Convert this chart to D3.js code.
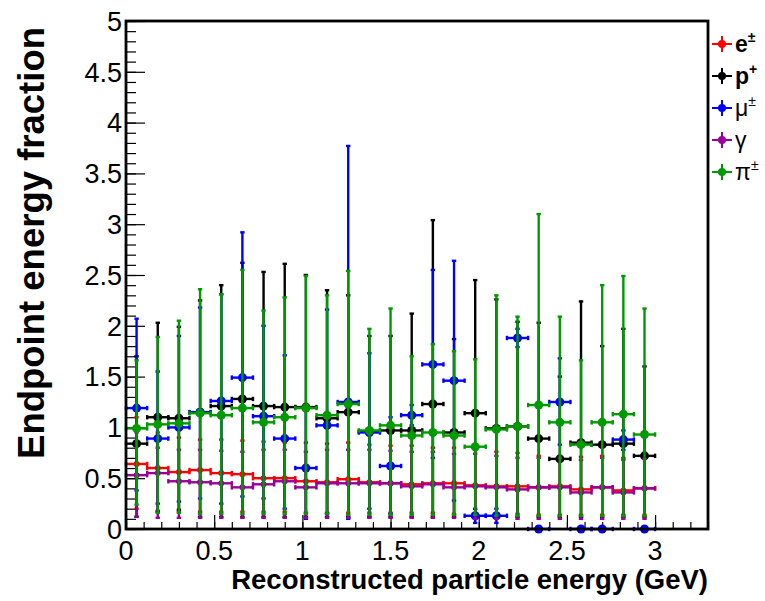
<!DOCTYPE html>
<html>
<head>
<meta charset="utf-8">
<script src="https://cdn.jsdelivr.net/npm/d3@7"></script>
<style>
  body { margin: 0; background: #fff; }
  svg { font-family: "Liberation Sans", Arial, Helvetica, sans-serif; }
</style>
</head>
<body>
<svg id="chart" width="765" height="601"></svg>
<script>
// bin centres of the reconstructed energy (GeV), bins are 0.12 wide
const energy = [0.06, 0.18, 0.30, 0.42, 0.54, 0.66, 0.78, 0.90, 1.02, 1.14, 1.26, 1.38, 1.50,
  1.62, 1.74, 1.86, 1.98, 2.10, 2.22, 2.34, 2.46, 2.58, 2.70, 2.82, 2.94];
const binHalfWidth = 0.06;

// e+-  (value, top of error bar, bottom of error bar)
const eValue = [0.64, 0.60, 0.56, 0.58, 0.55, 0.54, 0.50, 0.50, 0.47, 0.46, 0.49, 0.46, 0.45,
  0.44, 0.45, 0.45, 0.43, 0.42, 0.42, 0.41, 0.42, 0.39, 0.41, 0.38, 0.40];
const eHigh = [1.10, 0.95, 0.90, 0.88, 0.88, 0.87, 0.86, 0.85, 0.85, 0.84, 0.85, 0.83, 0.82,
  0.82, 0.80, 0.80, 0.78, 0.76, 0.75, 0.72, 0.72, 0.71, 0.72, 0.70, 0.71];
const eLow = [0.20, 0.18, 0.17, 0.17, 0.17, 0.17, 0.17, 0.17, 0.16, 0.16, 0.16, 0.16, 0.16,
  0.16, 0.16, 0.15, 0.15, 0.15, 0.15, 0.14, 0.14, 0.14, 0.14, 0.14, 0.14];

// p+
const pValue = [0.84, 1.10, 1.09, 1.15, 1.21, 1.28, 1.21, 1.20, 1.20, 1.09, 1.15, 0.96, 0.97,
  0.97, 1.23, 0.95, 1.14, 0.99, 1.01, 0.89, 0.69, 0.85, 0.83, 0.84, 0.72];
const pHigh = [1.70, 2.03, 1.99, 2.25, 2.40, 2.62, 2.53, 2.61, 2.50, 2.35, 2.30, 1.90, 1.90,
  2.12, 3.04, 1.87, 2.45, 2.26, 2.04, 2.03, 1.50, 2.24, 1.80, 1.97, 1.60];
const pLow = [0.12, 0.17, 0.19, 0.12, 0.12, 0.12, 0.12, 0.12, 0.12, 0.12, 0.12, 0.12, 0.12,
  0.12, 0.12, 0.12, 0.12, 0.12, 0.12, 0.12, 0.12, 0.12, 0.12, 0.12, 0.12];

// mu+-
const muValue = [1.19, 0.89, 1.00, 1.15, 1.26, 1.49, 1.11, 0.89, 0.60, 1.02, 1.25, 0.95, 0.62,
  1.12, 1.62, 1.46, 0.13, 0.13, 1.88, 0, 1.25, 0, 0, 0.88, 0];
const muHigh = [2.07, 1.55, 1.90, 2.18, 2.31, 2.92, 2.00, 1.71, 1.20, 2.16, 3.77, 1.73, 1.10,
  1.22, 2.55, 2.64, 0.20, 0.20, 1.97, 0, 1.68, 0, 0, 0.97, 0];
const muLow = [0.38, 0.25, 0.27, 0.30, 0.25, 0.32, 0.30, 0.20, 0.10, 0.15, 0.10, 0.20, 0.15,
  1.02, 0.70, 0.28, 0.06, 0.06, 1.79, 0, 0.83, 0, 0, 0.78, 0];

// gamma
const gValue = [0.53, 0.55, 0.47, 0.46, 0.45, 0.41, 0.44, 0.47, 0.41, 0.45, 0.45, 0.45, 0.45,
  0.42, 0.44, 0.41, 0.42, 0.41, 0.39, 0.41, 0.41, 0.36, 0.41, 0.36, 0.40];
const gHigh = [0.95, 0.80, 0.78, 0.78, 0.77, 0.76, 0.78, 0.78, 0.76, 0.78, 0.78, 0.78, 0.77,
  0.76, 0.76, 0.74, 0.74, 0.72, 0.70, 0.70, 0.70, 0.68, 0.70, 0.68, 0.69];
const gLow = [0.12, 0.11, 0.11, 0.11, 0.11, 0.11, 0.11, 0.11, 0.11, 0.11, 0.11, 0.11, 0.11,
  0.11, 0.11, 0.11, 0.10, 0.10, 0.10, 0.10, 0.10, 0.10, 0.10, 0.10, 0.10];

// pi+-
const piValue = [0.99, 1.03, 1.04, 1.14, 1.12, 1.19, 1.05, 1.10, 1.19, 1.12, 1.23, 0.97, 1.02,
  0.92, 0.95, 0.92, 0.81, 0.98, 1.01, 1.22, 1.05, 0.83, 1.05, 1.13, 0.93];
const piHigh = [1.66, 1.89, 2.05, 2.36, 2.31, 2.55, 2.15, 2.28, 2.49, 2.30, 2.54, 1.97, 2.17,
  1.70, 1.82, 1.75, 1.67, 2.30, 2.09, 3.10, 2.09, 1.66, 2.40, 2.49, 2.17];
const piLow = [0.24, 0.16, 0.16, 0.15, 0.15, 0.15, 0.15, 0.15, 0.15, 0.15, 0.14, 0.14, 0.14,
  0.14, 0.14, 0.14, 0.14, 0.13, 0.13, 0.13, 0.13, 0.13, 0.13, 0.13, 0.13];

const xTicks = [0, 0.5, 1, 1.5, 2, 2.5, 3];
const yTicks = [0, 0.5, 1, 1.5, 2, 2.5, 3, 3.5, 4, 4.5, 5];

// drawing order follows the legend
const series = [
  { name: 'e', sup: '±', bold: true, color: '#ff0000', r: 3, value: eValue, high: eHigh, low: eLow },
  { name: 'p', sup: '+', bold: true, color: '#000000', r: 4.5, value: pValue, high: pHigh, low: pLow },
  { name: 'μ', sup: '±', bold: false, color: '#0000ff', r: 4.5, value: muValue, high: muHigh, low: muLow },
  { name: 'γ', sup: '', bold: false, color: '#990099', r: 3, value: gValue, high: gHigh, low: gLow },
  { name: 'π', sup: '±', bold: false, color: '#009900', r: 4.5, value: piValue, high: piHigh, low: piLow },
];

const svg = d3.select('#chart');
const frame = { left: 126, right: 708, top: 21, bottom: 529 };

const x = d3.scaleLinear().domain([0, 3.3]).range([frame.left, frame.right]);
const y = d3.scaleLinear().domain([0, 5]).range([frame.bottom, frame.top]);

// ticks, drawn inward like ROOT does
const xAxis = d3.axisBottom(x).tickValues(d3.range(0, 3.31, 0.1)).tickSize(-7).tickFormat('');
svg.append('g').attr('transform', `translate(0,${frame.bottom})`).call(xAxis)
  .call((g) => g.select('.domain').remove());
svg.append('g').attr('transform', `translate(0,${frame.bottom})`)
  .call(d3.axisBottom(x).tickValues(xTicks).tickSize(-14).tickFormat(''))
  .call((g) => g.select('.domain').remove());

svg.append('g').attr('transform', `translate(${frame.left},0)`)
  .call(d3.axisLeft(y).tickValues(d3.range(0, 5.01, 0.1)).tickSize(-10).tickFormat(''))
  .call((g) => g.select('.domain').remove());
svg.append('g').attr('transform', `translate(${frame.left},0)`)
  .call(d3.axisLeft(y).tickValues(yTicks).tickSize(-19).tickFormat(''))
  .call((g) => g.select('.domain').remove());

svg.selectAll('.tick line').attr('stroke', '#000').attr('stroke-width', 1.2);

// tick labels
svg.append('g').selectAll('text').data(xTicks).enter().append('text')
  .attr('x', (d) => x(d))
  .attr('y', 560)
  .attr('text-anchor', 'middle')
  .attr('font-size', 27)
  .text((d) => d3.format('~g')(d));

svg.append('g').selectAll('text').data(yTicks).enter().append('text')
  .attr('x', 122)
  .attr('y', (d) => y(d) + 9.7)
  .attr('text-anchor', 'end')
  .attr('font-size', 27)
  .text((d) => d3.format('~g')(d));

// axis titles
svg.append('text')
  .attr('x', frame.right)
  .attr('y', 589)
  .attr('text-anchor', 'end')
  .attr('font-size', 27.5)
  .attr('font-weight', 'bold')
  .text('Reconstructed particle energy (GeV)');

svg.append('text')
  .attr('transform', `translate(44,${frame.top + 6}) rotate(-90)`)
  .attr('text-anchor', 'end')
  .attr('font-size', 36.5)
  .attr('font-weight', 'bold')
  .text('Endpoint energy fraction');

// points with error bars
const cap = 2.2;
series.forEach((s) => {
  const pts = energy.map((e, i) => ({ e, v: s.value[i], hi: s.high[i], lo: s.low[i] }));
  const g = svg.append('g').attr('stroke', s.color).attr('stroke-width', 2.4).attr('fill', 'none');

  const vert = pts.filter((d) => d.hi > d.lo);
  g.selectAll('.ev').data(vert).enter().append('line')
    .attr('x1', (d) => x(d.e)).attr('x2', (d) => x(d.e))
    .attr('y1', (d) => y(d.hi)).attr('y2', (d) => y(d.lo));
  g.selectAll('.ect').data(vert).enter().append('line')
    .attr('x1', (d) => x(d.e) - cap).attr('x2', (d) => x(d.e) + cap)
    .attr('y1', (d) => y(d.hi)).attr('y2', (d) => y(d.hi));
  g.selectAll('.ecb').data(vert).enter().append('line')
    .attr('x1', (d) => x(d.e) - cap).attr('x2', (d) => x(d.e) + cap)
    .attr('y1', (d) => y(d.lo)).attr('y2', (d) => y(d.lo));

  g.selectAll('.eh').data(pts).enter().append('line')
    .attr('x1', (d) => x(d.e - binHalfWidth)).attr('x2', (d) => x(d.e + binHalfWidth))
    .attr('y1', (d) => y(d.v)).attr('y2', (d) => y(d.v));
  g.selectAll('.ecl').data(pts).enter().append('line')
    .attr('x1', (d) => x(d.e - binHalfWidth)).attr('x2', (d) => x(d.e - binHalfWidth))
    .attr('y1', (d) => y(d.v) - cap).attr('y2', (d) => y(d.v) + cap);
  g.selectAll('.ecr').data(pts).enter().append('line')
    .attr('x1', (d) => x(d.e + binHalfWidth)).attr('x2', (d) => x(d.e + binHalfWidth))
    .attr('y1', (d) => y(d.v) - cap).attr('y2', (d) => y(d.v) + cap);

  svg.append('g').selectAll('circle').data(pts).enter().append('circle')
    .attr('cx', (d) => x(d.e))
    .attr('cy', (d) => y(d.v))
    .attr('r', s.r)
    .attr('fill', s.color);
});

// frame
svg.append('rect')
  .attr('x', frame.left).attr('y', frame.top)
  .attr('width', frame.right - frame.left).attr('height', frame.bottom - frame.top)
  .attr('fill', 'none').attr('stroke', '#000').attr('stroke-width', 2.8);

// legend
const legendY = [44, 76, 108, 140, 172];
const lg = svg.append('g').selectAll('g').data(series).enter().append('g')
  .attr('transform', (d, i) => `translate(722,${legendY[i]})`);
lg.append('line').attr('x1', -10).attr('x2', 10).attr('y1', 0).attr('y2', 0)
  .attr('stroke', (d) => d.color).attr('stroke-width', 2);
lg.append('line').attr('x1', 0).attr('x2', 0).attr('y1', -8).attr('y2', 8)
  .attr('stroke', (d) => d.color).attr('stroke-width', 2);
lg.append('circle').attr('r', 4).attr('fill', (d) => d.color);
const lt = lg.append('text')
  .attr('x', 13)
  .attr('y', 8)
  .attr('font-size', 23)
  .attr('font-weight', (d) => (d.bold ? 'bold' : 'normal'));
lt.append('tspan').text((d) => d.name);
lt.append('tspan')
  .attr('font-size', 14)
  .attr('dy', -10)
  .text((d) => d.sup);
</script>
</body>
</html>
